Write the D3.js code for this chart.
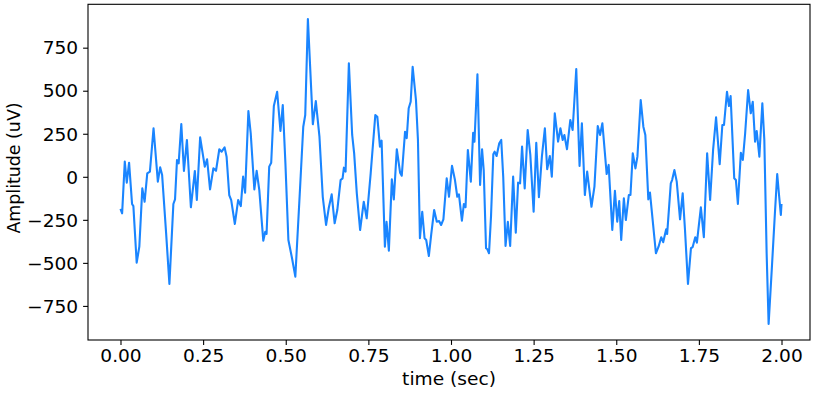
<!DOCTYPE html>
<html>
<head>
<meta charset="utf-8">
<script src="https://cdn.jsdelivr.net/npm/d3@7"></script>
<style>
  body { margin: 0; background: #fff; }
  svg text { font-family: "DejaVu Sans", sans-serif; font-size: 17.4px; fill: #000; }
</style>
</head>
<body>
<svg id="chart" width="819" height="393"></svg>
<script>
// signal (time in sec, amplitude in uV)
var times = [0.000,0.005,0.013,0.019,0.026,0.035,0.039,0.049,0.057,0.066,0.073,0.081,0.089,0.100,0.113,0.120,0.126,0.138,0.148,0.160,
  0.165,0.171,0.176,0.184,0.192,0.201,0.213,0.225,0.231,0.241,0.255,0.262,0.271,0.281,0.289,0.299,0.306,0.315,0.321,0.329,
  0.335,0.346,0.356,0.364,0.371,0.377,0.387,0.394,0.405,0.412,0.420,0.432,0.438,0.442,0.450,0.456,0.464,0.474,0.484,0.491,
  0.499,0.508,0.519,0.529,0.543,0.553,0.559,0.567,0.582,0.591,0.602,0.612,0.622,0.630,0.639,0.648,0.656,0.666,0.672,0.676,
  0.681,0.691,0.701,0.707,0.715,0.725,0.736,0.745,0.757,0.771,0.777,0.785,0.790,0.800,0.805,0.812,0.821,0.827,0.836,0.846,
  0.851,0.861,0.866,0.872,0.878,0.884,0.894,0.900,0.906,0.913,0.920,0.925,0.933,0.940,0.949,0.957,0.964,0.970,0.977,0.987,
  0.994,1.003,1.012,1.019,1.024,1.033,1.039,1.044,1.051,1.060,1.067,1.071,1.080,1.088,1.094,1.099,1.106,1.110,1.115,1.121,
  1.128,1.132,1.138,1.146,1.152,1.158,1.165,1.172,1.179,1.188,1.196,1.203,1.209,1.215,1.223,1.232,1.240,1.250,1.258,1.266,
  1.275,1.284,1.291,1.299,1.305,1.314,1.324,1.331,1.338,1.343,1.351,1.361,1.368,1.379,1.389,1.396,1.405,1.412,1.425,1.434,
  1.444,1.451,1.458,1.471,1.477,1.488,1.496,1.503,1.509,1.515,1.523,1.529,1.538,1.543,1.550,1.558,1.564,1.574,1.582,1.588,
  1.597,1.602,1.620,1.628,1.636,1.642,1.651,1.654,1.665,1.669,1.676,1.683,1.693,1.701,1.708,1.717,1.726,1.731,1.739,1.744,
  1.756,1.765,1.775,1.784,1.793,1.802,1.813,1.821,1.826,1.835,1.841,1.846,1.857,1.862,1.868,1.877,1.883,1.890,1.899,1.907,
  1.913,1.920,1.925,1.933,1.942,1.948,1.955,1.961,1.971,1.980,1.987,1.993,1.998,2.000];
var amplitudes = [-187,-212,88,-34,82,-158,-170,-499,-406,-67,-145,20,30,282,-28,55,10,-326,-622,-158,
  -131,98,78,307,34,214,-177,34,-135,229,59,102,-73,49,35,160,146,171,117,-106,
  -135,-274,-135,-170,1,-92,382,253,-73,35,-77,-371,-319,-332,59,82,411,494,266,417,
  78,-367,-473,-580,-77,291,359,916,305,440,233,-116,-280,-183,-102,-270,-193,-19,-9,53,
  30,659,243,136,-96,-309,-145,-241,20,359,349,175,210,-406,-261,-429,-15,-131,160,24,
  6,262,224,398,436,639,446,214,-357,-203,-357,-367,-460,-338,-193,-261,-257,-280,-247,-9,
  -116,64,-19,-116,-102,-255,-158,-177,156,-28,256,204,595,-48,160,39,-415,-421,-444,-232,
  131,146,121,195,214,1,-402,-261,-402,1,-325,-34,-38,175,-67,272,127,-203,198,-119,
  117,282,44,121,1,369,204,282,214,243,160,330,272,626,63,311,-106,30,-174,-57,
  295,243,311,16,69,-309,-81,-261,-141,-367,-125,-251,-106,-106,136,49,117,446,291,243,
  -131,-92,-444,-406,-351,-380,-305,-332,-38,-19,39,-28,-247,-96,-309,-622,-415,-409,-351,-383,
  -177,-351,136,-135,156,346,73,301,301,494,411,469,-9,-19,-158,140,98,253,504,369,
  436,204,266,117,427,214,-444,-855,-522,-212,16,-116,-222,-158];

var xTicks = [0, 0.25, 0.5, 0.75, 1.0, 1.25, 1.5, 1.75, 2.0];
var yTicks = [-750, -500, -250, 0, 250, 500, 750];
var xLabel = "time (sec)";
var yLabel = "Amplitude (uV)";

var plot = {left: 88, right: 810, top: 4.3, bottom: 340};
var stretch = 1.07; // text in the picture is a bit wider than tall

var svg = d3.select("#chart");

var x = d3.scaleLinear()
    .domain([-0.0983, 2.0862])
    .range([plot.left, plot.right]);

var y = d3.scaleLinear()
    .domain([-948, 1002])
    .range([plot.bottom, plot.top]);

var data = times.map(function(t, i) { return {t: t, v: amplitudes[i]}; });

var line = d3.line()
    .x(d => x(d.t))
    .y(d => y(d.v));

svg.append("path")
    .datum(data)
    .attr("fill", "none")
    .attr("stroke", "#1a85ff")
    .attr("stroke-width", 2.1)
    .attr("stroke-linejoin", "round")
    .attr("d", line);

// x axis
var xAxis = d3.axisBottom(x)
    .tickValues(xTicks)
    .tickSize(4.9)
    .tickPadding(4.5)
    .tickFormat(d3.format(".2f"));

svg.append("g")
    .attr("transform", "translate(0," + plot.bottom + ")")
    .call(xAxis)
    .call(g => g.select(".domain").remove())
    .call(g => g.selectAll("text").attr("font-size", null).attr("font-family", null)
        .attr("dy", "0.73em").attr("transform", "scale(" + stretch + ",1)"))
    .call(g => g.selectAll("line").attr("stroke", "#000").attr("stroke-width", 1.1));

// y axis
var minus = function(d) { return d < 0 ? "\u2212" + Math.abs(d) : String(d); };
var yAxis = d3.axisLeft(y)
    .tickValues(yTicks)
    .tickSize(4.9)
    .tickPadding(4.9)
    .tickFormat(minus);

svg.append("g")
    .attr("transform", "translate(" + plot.left + ",0)")
    .call(yAxis)
    .call(g => g.select(".domain").remove())
    .call(g => g.selectAll("text").attr("font-size", null).attr("font-family", null)
        .attr("dy", "0.36em").attr("x", -9.8 / stretch).attr("transform", "scale(" + stretch + ",1)"))
    .call(g => g.selectAll("line").attr("stroke", "#000").attr("stroke-width", 1.1));

// frame
svg.append("rect")
    .attr("x", plot.left)
    .attr("y", plot.top)
    .attr("width", plot.right - plot.left)
    .attr("height", plot.bottom - plot.top)
    .attr("fill", "none")
    .attr("stroke", "#000")
    .attr("stroke-width", 1.1);

svg.append("text")
    .attr("transform", "translate(" + ((plot.left + plot.right) / 2) + ",384.5) scale(" + stretch + ",1)")
    .attr("text-anchor", "middle")
    .text(xLabel);

svg.append("text")
    .attr("transform", "translate(19.5,168) rotate(-90)")
    .attr("text-anchor", "middle")
    .text(yLabel);
</script>
</body>
</html>
